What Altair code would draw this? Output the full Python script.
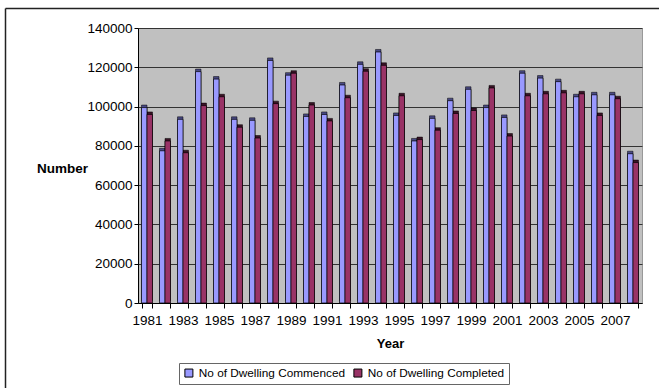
import altair as alt
import pandas as pd

years = list(range(1981, 2009))
commenced = [99500, 77500, 93500, 117800, 114000, 93500, 93000, 123500, 116000, 95000,
             96000, 111000, 121500, 127800, 95500, 82500, 94000, 103000, 108800, 99500,
             94500, 117000, 114500, 112700, 105000, 106000, 106000, 76000]
completed = [96000, 82500, 76500, 100500, 105000, 89500, 84000, 101500, 117000, 100800,
             92700, 104500, 118000, 121000, 105500, 83200, 88000, 96500, 98000, 109500,
             85000, 105500, 106500, 107000, 106500, 95500, 104000, 71500]
series_names = ["No of Dwelling Commenced", "No of Dwelling Completed"]
front_colors = ["#9999FF", "#993366"]
depth_colors = ["#4a4a85", "#3a1226"]
y_ticks = list(range(0, 140001, 20000))

rows = []
for yr, a, b in zip(years, commenced, completed):
    rows.append({"year": yr, "series": series_names[0], "value": a})
    rows.append({"year": yr, "series": series_names[1], "value": b})
df = pd.DataFrame(rows)

FONT = "Liberation Sans"
W, H = 504, 275

x_enc = alt.X(
    "year:O", title="Year",
    scale=alt.Scale(paddingInner=0.39, paddingOuter=0.195),
    axis=alt.Axis(
        labelExpr="datum.value % 2 == 1 ? datum.label : ''",
        labelAngle=0, labelOverlap=False, tickBand="extent", tickSize=5,
        tickColor="black", domainColor="black", labelPadding=5,
        labelFontSize=13.5, labelFont=FONT, labelColor="black",
        titleFontSize=13, titleFont=FONT, titleFontWeight="bold", titleColor="black",
        titleY=40, titleBaseline="middle",
    ),
)
y_enc = alt.Y(
    "value:Q", title="Number",
    scale=alt.Scale(domain=[0, 140000], nice=False),
    axis=alt.Axis(
        values=y_ticks, format="d", grid=True, gridColor="#333333", gridWidth=1,
        tickSize=4, tickColor="black", domainColor="black", labelPadding=2,
        labelFontSize=13.5, labelFont=FONT, labelColor="black",
        titleAngle=0, titleX=-76, titleY=140, titleAlign="center",
        titleBaseline="middle", titleFontWeight="bold", titleFontSize=13.5,
        titleFont=FONT, titleColor="black",
    ),
)

depth = alt.Chart(df).mark_bar(xOffset=4.0, yOffset=-2.5, stroke="black", strokeWidth=0.5).encode(
    x=x_enc,
    xOffset=alt.XOffset("series:N"),
    y=y_enc,
    color=alt.Color("series:N", scale=alt.Scale(domain=series_names, range=depth_colors), legend=None),
)

front = alt.Chart(df).mark_bar(xOffset=1.5, stroke="black", strokeWidth=0.7).encode(
    x=x_enc,
    xOffset=alt.XOffset("series:N"),
    y=y_enc,
    color=alt.Color(
        "series:N",
        scale=alt.Scale(domain=series_names, range=front_colors),
        legend=alt.Legend(
            title=None, orient="none", legendX=41, legendY=335, direction="horizontal",
            symbolType="square", symbolSize=64, symbolStrokeColor="black",
            symbolStrokeWidth=1, labelFontSize=11.8, labelFont=FONT, labelColor="black",
            strokeColor="#666666", fillColor="white", padding=4, columnPadding=5,
            labelOffset=4,
        ),
    ),
)

frame_df = pd.DataFrame({"k": [0]})
top_line = alt.Chart(frame_df).mark_rule(color="#222222", strokeWidth=1.5).encode(
    x=alt.value(-132.5), x2=alt.value(560), y=alt.value(-19.5)
)
left_line = alt.Chart(frame_df).mark_rule(color="#222222", strokeWidth=1.5).encode(
    x=alt.value(-132.5), y=alt.value(-19.5), y2=alt.value(400)
)

chart = alt.layer(depth, front, top_line, left_line).resolve_scale(
    color="independent"
).properties(
    width=W, height=H,
    autosize=alt.AutoSizeParams(type="none"),
    padding={"left": 138, "top": 28, "right": 17, "bottom": 85},
    background="white",
).configure_view(fill="#C0C0C0", stroke="#999999")

chart.save("out.html", embed_options={"renderer": "svg", "actions": False})
